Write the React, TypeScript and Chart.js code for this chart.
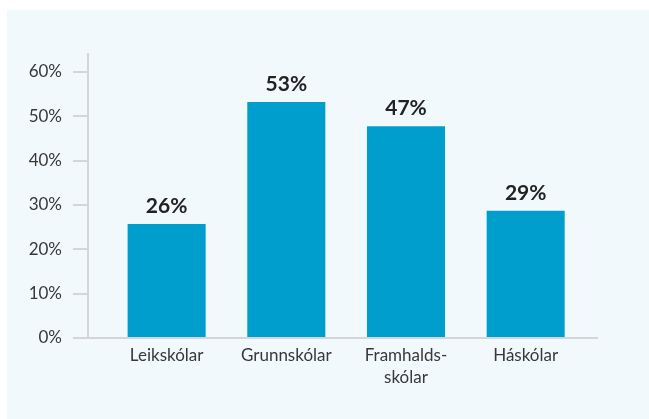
import React, { useEffect, useRef } from "react";
import { Chart, registerables } from "chart.js";

Chart.register(...registerables);

const categories: string[][] = [["Leikskólar"], ["Grunnskólar"], ["Framhalds-", "skólar"], ["Háskólar"]];
const values: number[] = [25.7, 53.2, 47.7, 28.7];
const valueLabels: string[] = ["26%", "53%", "47%", "29%"];
const yTicks: number[] = [0, 10, 20, 30, 40, 50, 60];

const BAR_COLOR = "#009ECD";
const AXIS_COLOR = "#d3d5d8";
const TEXT_COLOR = "#383838";
const FONT = "Lato";

const valueLabelPlugin = {
  id: "valueLabels",
  afterDatasetsDraw(chart: any) {
    const ctx = chart.ctx;
    const meta = chart.getDatasetMeta(0);
    ctx.save();
    ctx.font = `bold 21px ${FONT}`;
    ctx.fillStyle = "#222222";
    ctx.textAlign = "center";
    ctx.textBaseline = "alphabetic";
    meta.data.forEach((el: any, i: number) => {
      ctx.fillText(valueLabels[i], el.x, el.y - 11);
    });
    ctx.restore();
  },
};

export default function App() {
  const canvasRef = useRef<HTMLCanvasElement | null>(null);

  useEffect(() => {
    let chart: Chart | null = null;
    let cancelled = false;
    const make = () => {
      if (cancelled || !canvasRef.current) return;
      chart = new Chart(canvasRef.current, {
        type: "bar",
        data: {
          datasets: [
            {
              data: values.map((v, i) => ({ x: i, y: v })),
              backgroundColor: BAR_COLOR,
              borderWidth: 0,
              categoryPercentage: 1,
              barPercentage: 0.652,
            },
          ],
        },
        options: {
          animation: false,
          responsive: false,
          devicePixelRatio: 1,
          layout: { padding: { top: 44, right: 52, left: 0, bottom: 0 } },
          plugins: { legend: { display: false }, tooltip: { enabled: false } },
          scales: {
            x: {
              type: "linear",
              offset: false,
              min: -0.657,
              max: 3.596,
              afterBuildTicks: (scale: any) => {
                scale.ticks = categories.map((_, i) => ({ value: i }));
              },
              afterFit: (scale: any) => {
                scale.height = 81;
              },
              grid: { drawOnChartArea: false, drawTicks: false, display: false, offset: false },
              border: { display: true, color: AXIS_COLOR, width: 2 },
              ticks: {
                autoSkip: false,
                maxRotation: 0,
                padding: 6,
                color: TEXT_COLOR,
                font: { family: FONT, size: 17, lineHeight: 1.3 },
                callback: (v: any) => categories[Math.round(Number(v))] ?? "",
              },
            },
            y: {
              type: "linear",
              min: 0,
              max: 64,
              afterBuildTicks: (scale: any) => {
                scale.ticks = yTicks.map((v) => ({ value: v }));
              },
              afterFit: (scale: any) => {
                scale.width = 81;
              },
              grid: {
                drawOnChartArea: false,
                drawTicks: true,
                tickLength: 15,
                color: AXIS_COLOR,
                lineWidth: 2,
              },
              border: { display: true, color: AXIS_COLOR, width: 2 },
              ticks: {
                padding: 11,
                color: TEXT_COLOR,
                font: { family: FONT, size: 17 },
                callback: (v: any) => `${v}%`,
              },
            },
          },
        },
        plugins: [valueLabelPlugin],
      });
    };
    const fontsReady = (document as any).fonts
      ? Promise.all([
          (document as any).fonts.load(`17px ${FONT}`),
          (document as any).fonts.load(`bold 21px ${FONT}`),
        ]).catch(() => null)
      : Promise.resolve(null);
    fontsReady.then(make);
    return () => {
      cancelled = true;
      if (chart) chart.destroy();
    };
  }, []);

  return (
    <div
      style={{
        position: "absolute",
        left: 7,
        top: 10,
        width: 642,
        height: 409,
        background: "#f2f9fd",
      }}
    >
      <canvas ref={canvasRef} width={642} height={409} style={{ display: "block" }} />
    </div>
  );
}
